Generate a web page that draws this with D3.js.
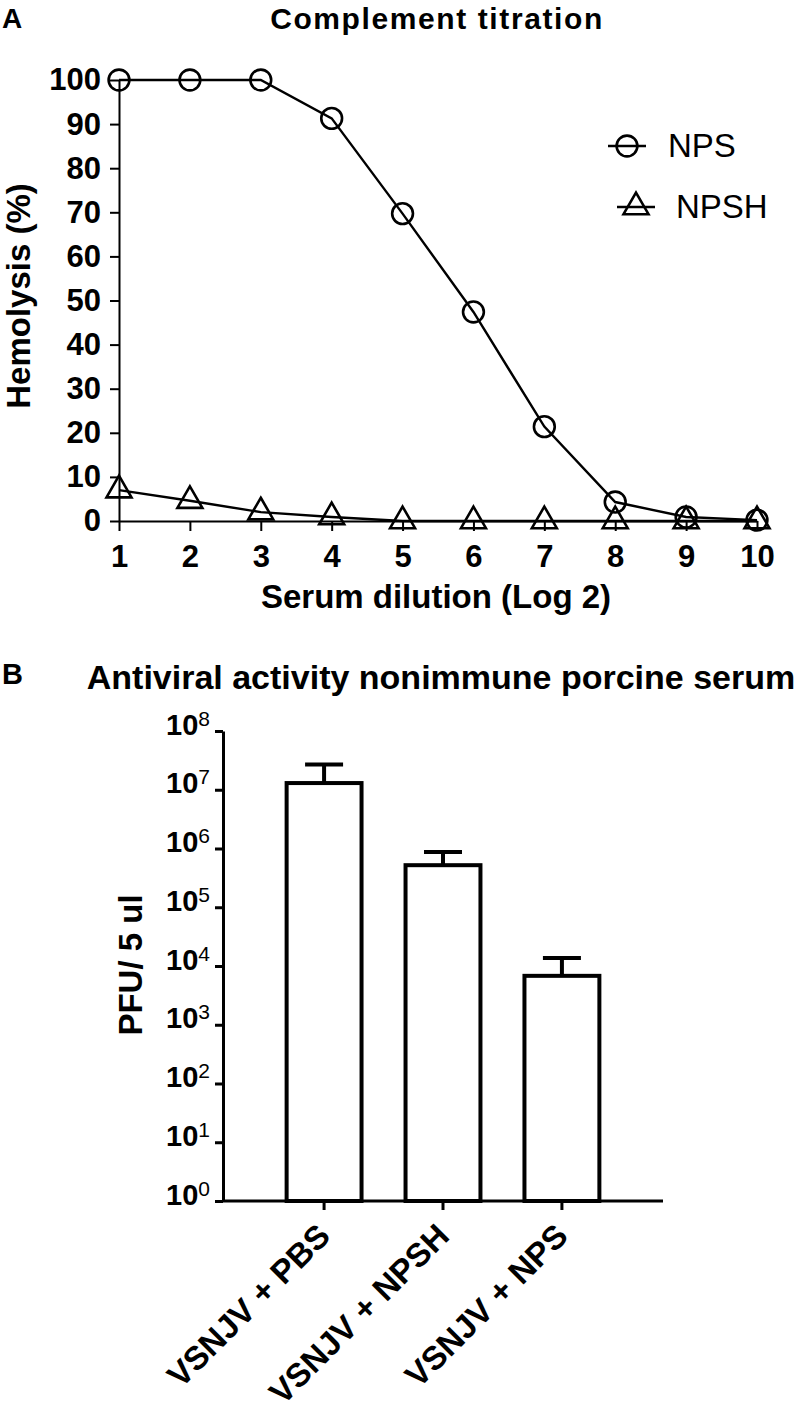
<!DOCTYPE html>
<html lang="en">
<head>
  <meta charset="UTF-8">
  <title>Complement titration / antiviral activity</title>
  <script src="https://cdn.jsdelivr.net/npm/d3@7"></script>
  <style>
  body { margin: 0; background: #fff; }
  svg text { font-family: "Liberation Sans", Arial, sans-serif; fill: #000; }
  .bold { font-weight: bold; }
  .axis path, .axis line { stroke: #000; }
  </style>
</head>
<body>
<svg id="fig" width="800" height="1410"></svg>
<script>
// panel A data
const dilution = [1, 2, 3, 4, 5, 6, 7, 8, 9, 10];
const npsHemolysis = [100, 100, 100, 91.3, 69.7, 47.4, 21.4, 4.3, 0.9, 0.2];
const npshHemolysis = [7.0, 4.6, 2.0, 0.9, 0, 0, 0, 0, 0, 0];
const hemolysisTicks = [0, 10, 20, 30, 40, 50, 60, 70, 80, 90, 100];

// panel B data
const groups = ['VSNJV + PBS', 'VSNJV + NPSH', 'VSNJV + NPS'];
const pfuMean = [1.3e7, 5.2e5, 6.8e3];
const pfuUpper = [2.7e7, 8.7e5, 1.37e4];
const pfuExponents = [0, 1, 2, 3, 4, 5, 6, 7, 8];

const svg = d3.select('#fig');

// ---------- A ----------
const gA = svg.append('g');
const xA = d3.scaleLinear().domain([1, 10]).range([119, 757]);
const yA = d3.scaleLinear().domain([0, 100]).range([521, 80]);

gA.append('text').attr('class', 'bold').attr('x', 2).attr('y', 28)
  .attr('font-size', 28).text('A');
gA.append('text').attr('class', 'bold').attr('x', 437).attr('y', 29)
  .attr('text-anchor', 'middle').attr('font-size', 30).attr('letter-spacing', 1.6)
  .text('Complement titration');

const yAxisA = gA.append('g').attr('class', 'axis')
  .attr('transform', `translate(${xA(1)},0)`)
  .call(d3.axisLeft(yA).tickValues(hemolysisTicks).tickSize(9).tickSizeOuter(0).tickPadding(9));
const xAxisA = gA.append('g').attr('class', 'axis')
  .attr('transform', `translate(0,${yA(0)})`)
  .call(d3.axisBottom(xA).tickValues(dilution).tickSize(10).tickSizeOuter(0).tickPadding(14));
[yAxisA, xAxisA].forEach(ax => {
  ax.selectAll('path, line').attr('stroke-width', 2);
  ax.selectAll('text').attr('class', 'bold').attr('font-size', 31).attr('font-family', null);
});

gA.append('text').attr('class', 'bold').attr('font-size', 33)
  .attr('text-anchor', 'middle')
  .attr('transform', `translate(30,296) rotate(-90)`)
  .text('Hemolysis (%)');
gA.append('text').attr('class', 'bold').attr('font-size', 33)
  .attr('text-anchor', 'middle').attr('x', 436).attr('y', 608)
  .text('Serum dilution (Log 2)');

const lineA = d3.line().x((d, i) => xA(dilution[i])).y(d => yA(d));
const series = [
  { name: 'NPS', values: npsHemolysis, symbol: d3.symbolCircle, size: 340 },
  { name: 'NPSH', values: npshHemolysis, symbol: d3.symbolTriangle, size: 270 },
];
series.forEach(s => {
  gA.append('path').datum(s.values).attr('d', lineA)
    .attr('fill', 'none').attr('stroke', '#000').attr('stroke-width', 2.4);
  gA.selectAll(null).data(s.values).join('path')
    .attr('d', d3.symbol(s.symbol, s.size))
    .attr('transform', (d, i) => `translate(${xA(dilution[i])},${yA(d)})`)
    .attr('fill', 'none').attr('stroke', '#000').attr('stroke-width', 2.6);
});

// legend
const legendPos = [{ x: 608, y: 146, tx: 668, ty: 157 }, { x: 617, y: 207, tx: 676, ty: 218 }];
series.forEach((s, i) => {
  const p = legendPos[i];
  gA.append('line').attr('x1', p.x).attr('x2', p.x + 38).attr('y1', p.y).attr('y2', p.y)
    .attr('stroke', '#000').attr('stroke-width', 2.4);
  gA.append('path').attr('d', d3.symbol(s.symbol, s.size))
    .attr('transform', `translate(${p.x + 19},${p.y})`)
    .attr('fill', 'none').attr('stroke', '#000').attr('stroke-width', 2.6);
  gA.append('text').attr('x', p.tx).attr('y', p.ty).attr('font-size', 33).text(s.name);
});

// ---------- B ----------
const gB = svg.append('g');
const xB = d3.scaleBand().domain(groups).range([223, 663]).paddingInner(0.37).paddingOuter(0.535);
const yB = d3.scaleLog().domain([1, 1e8]).range([1201, 731]);

gB.append('text').attr('class', 'bold').attr('x', 2).attr('y', 684)
  .attr('font-size', 29).text('B');
gB.append('text').attr('class', 'bold').attr('x', 441).attr('y', 689)
  .attr('text-anchor', 'middle').attr('font-size', 34)
  .text('Antiviral activity nonimmune porcine serum');

const yAxisB = gB.append('g').attr('class', 'axis')
  .attr('transform', `translate(223,0)`)
  .call(d3.axisLeft(yB).tickValues(pfuExponents.map(e => Math.pow(10, e)))
    .tickSize(8).tickSizeOuter(0).tickPadding(5));
yAxisB.selectAll('text').attr('font-size', null).attr('font-family', null)
  .each(function (d) {
    const t = d3.select(this).text(null);
    t.append('tspan').attr('class', 'bold').attr('font-size', 29).text('10');
    t.append('tspan').attr('font-size', 21).attr('dy', -9)
      .text(Math.round(Math.log10(d)));
  });
const xAxisB = gB.append('g').attr('class', 'axis')
  .attr('transform', `translate(0,${yB(1)})`)
  .call(d3.axisBottom(xB).tickSize(9).tickSizeOuter(0));
xAxisB.select('.domain').attr('d', `M223,0H663`);
xAxisB.selectAll('text').remove();
xAxisB.selectAll('.tick').append('text')
  .attr('class', 'bold').attr('font-size', 33).attr('font-family', null)
  .attr('text-anchor', 'end')
  .attr('transform', 'translate(8,37) rotate(-45)')
  .text(d => d);
[yAxisB, xAxisB].forEach(ax => ax.selectAll('path, line').attr('stroke-width', 3));

gB.append('text').attr('class', 'bold').attr('font-size', 33)
  .attr('text-anchor', 'middle')
  .attr('transform', `translate(142,965) rotate(-90)`)
  .text('PFU/ 5 ul');

const bars = gB.selectAll('.bar').data(groups).join('g').attr('class', 'bar');
// error bars (upper only)
bars.append('line')
  .attr('x1', d => xB(d) + xB.bandwidth() / 2).attr('x2', d => xB(d) + xB.bandwidth() / 2)
  .attr('y1', (d, i) => yB(pfuMean[i])).attr('y2', (d, i) => yB(pfuUpper[i]))
  .attr('stroke', '#000').attr('stroke-width', 4);
bars.append('line')
  .attr('x1', d => xB(d) + xB.bandwidth() / 2 - 19).attr('x2', d => xB(d) + xB.bandwidth() / 2 + 19)
  .attr('y1', (d, i) => yB(pfuUpper[i])).attr('y2', (d, i) => yB(pfuUpper[i]))
  .attr('stroke', '#000').attr('stroke-width', 4);
bars.append('rect')
  .attr('x', d => xB(d)).attr('width', xB.bandwidth())
  .attr('y', (d, i) => yB(pfuMean[i]))
  .attr('height', (d, i) => yB(1) - yB(pfuMean[i]))
  .attr('fill', '#fff').attr('stroke', '#000').attr('stroke-width', 4);
</script>
</body>
</html>
